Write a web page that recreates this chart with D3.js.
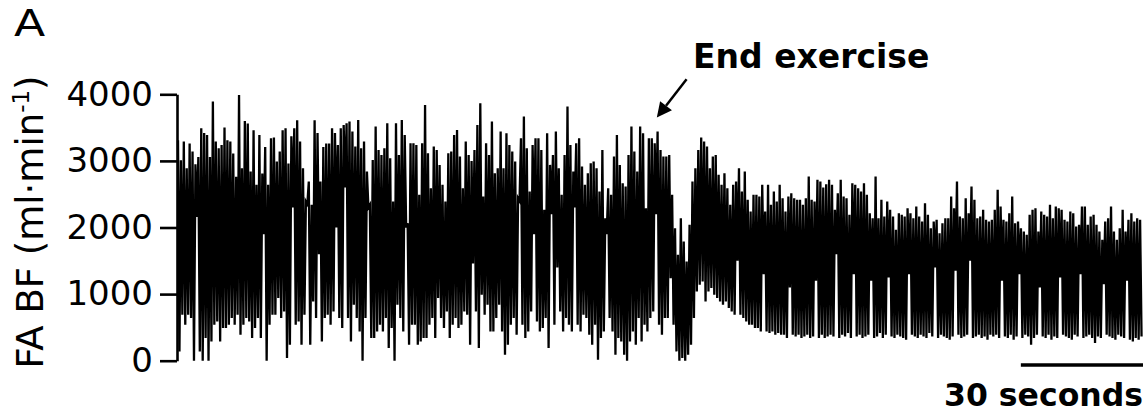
<!DOCTYPE html>
<html>
<head>
<meta charset="utf-8">
<script src="https://cdn.jsdelivr.net/npm/d3@7"></script>
<style>
body { margin: 0; background: #fff; }
svg { display: block; font-family: "DejaVu Sans", Verdana, sans-serif; }
</style>
</head>
<body>
<svg id="chart" width="1147" height="418"></svg>
<script>
// FA blood flow, beat by beat (ml/min) - peak then trough of each beat
var peaksA = [3310, 3010, 3290, 2890, 3260, 3140, 2950, 3060, 3490, 3420,
  3390, 3060, 3890, 3290, 3190, 3240, 3500, 3310, 3290, 3110,
  2760, 3990, 2890, 3600, 3560, 2840, 3460, 2640, 3390, 2810,
  3210, 2640, 3340, 3350, 2990, 3140, 3460, 3490, 2960, 3370,
  3490, 3610, 3290, 2890, 2390, 2690, 2340, 3610, 3420, 2690,
  3210, 3260, 3260, 3490, 3420, 3240];
var troughsA = [140, 690, 540, 690, 640, 0, 2160, 140, 0, 340,
  0, 290, 540, 590, 290, 490, 490, 540, 640, 540,
  690, 390, 540, 640, 590, 340, 490, 640, 340, 1900,
  0, 540, 690, 690, 940, 640, 740, 40, 240, 2300,
  540, 590, 240, 690, 2350, 240, 890, 640, 1600, 290,
  640, 690, 540, 740, 2000, 640];

var peaksB = [3490, 3540, 3565, 3590, 3440, 3215, 3615, 3190, 3290, 2840,
  2340, 3015, 3515, 3165, 3090, 3190, 3565, 3040, 2390, 3565,
  3090, 3615, 3390, 2065, 3265, 3265, 3240, 2490, 3265, 3840,
  3115, 2590, 3215, 3165, 2940, 2640, 2390, 3115, 3140, 3390,
  3465, 3065, 2590, 3290, 3090, 3000, 3165, 3540, 3865, 2465,
  3265, 3090, 3590, 2815, 2890, 3440];
var troughsB = [490, 2600, 640, 290, 840, 640, 440, 0, 640, 2300,
  340, 340, 440, 540, 440, 640, 190, 490, 0, 840,
  640, 440, 2000, 240, 540, 540, 240, 290, 340, 340,
  540, 640, 340, 940, 640, 490, 740, 340, 540, 640,
  490, 540, 740, 690, 240, 1460, 740, 190, 990, 690,
  840, 440, 440, 640, 840, 440];

var peaksC = [2890, 3415, 3240, 3140, 2990, 2440, 3340, 3665, 3190, 2540,
  3240, 3340, 3340, 3165, 2265, 3415, 2940, 3090, 3440, 2890,
  2490, 3090, 3815, 3240, 2840, 3265, 3340, 2915, 2640, 2815,
  2965, 2990, 2890, 2540, 3165, 2140, 2590, 2490, 3065, 3390,
  2940, 2665, 2615, 3090, 3515, 3140, 2840, 3515, 3415, 2290,
  3340, 3340, 3265, 3440, 3165, 3065];
var troughsC = [90, 240, 540, 640, 390, 2400, 540, 340, 440, 740,
  1900, 590, 440, 490, 640, 190, 2200, 540, 1400, 740,
  440, 640, 540, 440, 2300, 540, 440, 690, 640, 390,
  240, 540, 15, 340, 440, 1900, 640, 440, 90, 340,
  290, 90, 0, 290, 440, 240, 640, 290, 540, 440,
  640, 740, 2200, 540, 390, 640];

var peaksD = [3065, 3090, 2490, 1990, 1590, 2140, 1790, 1490, 2040, 2690,
  2890, 3165, 3350, 3290, 3215, 2890, 3065, 3090, 2790, 2640,
  2815, 2590, 2340, 2640, 2690, 2890, 2540, 2840, 2415, 2240,
  2490, 2490, 2465, 2640, 2240, 2640, 2340, 2540, 2390, 2640,
  2440, 2240, 2465, 2515, 2440, 2415, 2415, 2340, 2440, 2765,
  2415, 2390, 2715, 2690, 2600, 2650];
var troughsD = [640, 1240, 540, 140, 0, 40, 0, 90, 240, 640,
  1040, 1140, 1190, 890, 1040, 1090, 990, 940, 890, 840,
  890, 790, 740, 690, 1500, 690, 640, 590, 540, 540,
  490, 490, 440, 1300, 440, 415, 440, 390, 415, 390,
  390, 340, 1100, 390, 365, 390, 340, 365, 390, 340,
  365, 1200, 340, 390, 340, 365];

var peaksE = [2715, 2640, 2265, 2515, 2715, 2465, 2440, 2190, 2665, 2640,
  2590, 2540, 2665, 2490, 2215, 2140, 2765, 2140, 2415, 2165,
  2390, 2265, 2165, 1965, 2215, 2190, 2165, 2290, 2215, 2140,
  2315, 2165, 2090, 2365, 2190, 1990, 2090, 2115, 1915, 2065,
  2140, 2140, 2465, 2290, 2690, 2165, 2140, 2440, 2215, 2615,
  2415, 2140, 2165, 2265, 2115, 2090];
var troughsE = [390, 365, 1600, 340, 390, 365, 415, 340, 1300, 365,
  390, 340, 365, 390, 1200, 340, 365, 415, 340, 390,
  1250, 365, 340, 390, 365, 340, 315, 1300, 390, 365,
  340, 390, 365, 340, 415, 365, 1400, 340, 390, 365,
  340, 315, 365, 1350, 390, 340, 365, 390, 1500, 340,
  365, 390, 340, 365, 315, 390];

var peaksF = [2115, 2265, 2565, 2315, 2115, 2090, 2215, 2465, 2065, 2090,
  1990, 1940, 1890, 2190, 2265, 2290, 1940, 2240, 2190, 2165,
  2340, 2140, 2315, 2290, 2265, 2115, 2090, 2240, 2215, 2015,
  2040, 2315, 2315, 2040, 2165, 2190, 2040, 1940, 1815, 2090,
  2140, 2315, 1940, 1815, 1990, 2265, 1940, 2115, 2215, 2090,
  2140, 2115];
var troughsF = [365, 390, 340, 1200, 365, 340, 390, 315, 365, 1300,
  340, 390, 365, 240, 340, 390, 1100, 365, 340, 390,
  315, 365, 340, 1250, 390, 365, 340, 315, 390, 365,
  1300, 340, 365, 390, 340, 265, 365, 340, 1150, 390,
  365, 340, 315, 390, 365, 340, 1200, 315, 290, 340,
  315, 365];

var yTicks = [0, 1000, 2000, 3000, 4000];
var traceSec = 237;        // length of the recording shown
var endExerciseSec = 117.6;
var scaleBarSec = 30;

var peaks = peaksA.concat(peaksB, peaksC, peaksD, peaksE, peaksF);
var troughs = troughsA.concat(troughsB, troughsC, troughsD, troughsE, troughsF);
var beatSec = traceSec / peaks.length;

var trace = [];
peaks.forEach(function(p, i) {
  trace.push({ t: i * beatSec, v: p });
  trace.push({ t: (i + 0.5) * beatSec, v: troughs[i] });
});

var svg = d3.select("#chart");

var x = d3.scaleLinear().domain([0, traceSec]).range([178, 1143]);
var y = d3.scaleLinear().domain([0, 4000]).range([360.7, 94.3]);

// trace
var line = d3.line()
  .x(function(d) { return x(d.t); })
  .y(function(d) { return y(d.v); });

svg.append("path")
  .datum(trace)
  .attr("d", line)
  .attr("fill", "none")
  .attr("stroke", "#000")
  .attr("stroke-width", 2.3);

// y axis
var yAxis = svg.append("g")
  .attr("transform", "translate(177,0)")
  .call(d3.axisLeft(y).tickValues(yTicks).tickFormat(d3.format("d"))
    .tickSize(17).tickSizeOuter(0).tickPadding(7));

yAxis.selectAll("path, line").attr("stroke", "#000").attr("stroke-width", 2.6);
yAxis.selectAll("text")
  .attr("fill", "#000")
  .style("font-size", "34px")
  .style("font-family", "'DejaVu Sans', Verdana, sans-serif");

// y label
var yl = svg.append("text")
  .attr("transform", "translate(43,222) rotate(-90)")
  .attr("text-anchor", "middle")
  .style("font-size", "37px");
yl.append("tspan").text("FA BF (ml\u00b7min");
yl.append("tspan").attr("dy", -14).style("font-size", "23px").text("-1");
yl.append("tspan").attr("dy", 14).text(")");

// panel letter
svg.append("text")
  .attr("transform", "translate(14,36) scale(1.2,1)")
  .style("font-size", "38px")
  .text("A");

// end exercise annotation
var tip = [x(endExerciseSec), y(3650)];
var tail = [x(124.9), y(4225)];
var dx = tip[0] - tail[0], dy = tip[1] - tail[1];
var len = Math.sqrt(dx * dx + dy * dy);
var ux = dx / len, uy = dy / len;
var headL = 15, headW = 7.5;
var base = [tip[0] - ux * headL, tip[1] - uy * headL];

svg.append("line")
  .attr("x1", tail[0]).attr("y1", tail[1])
  .attr("x2", base[0]).attr("y2", base[1])
  .attr("stroke", "#000").attr("stroke-width", 2.5);

svg.append("path")
  .attr("d", "M" + tip[0] + "," + tip[1]
    + "L" + (base[0] - uy * headW) + "," + (base[1] + ux * headW)
    + "L" + (base[0] + uy * headW) + "," + (base[1] - ux * headW) + "Z")
  .attr("fill", "#000");

svg.append("text")
  .attr("x", 693).attr("y", 68)
  .style("font-size", "33px")
  .style("font-weight", "bold")
  .text("End exercise");

// 30 s scale bar
svg.append("line")
  .attr("x1", x(traceSec - scaleBarSec)).attr("x2", x(traceSec))
  .attr("y1", 365).attr("y2", 365)
  .attr("stroke", "#000").attr("stroke-width", 3.5);

svg.append("text")
  .attr("x", x(traceSec)).attr("y", 406)
  .attr("text-anchor", "end")
  .style("font-size", "31.5px")
  .style("font-weight", "bold")
  .text(scaleBarSec + " seconds");
</script>
</body>
</html>
